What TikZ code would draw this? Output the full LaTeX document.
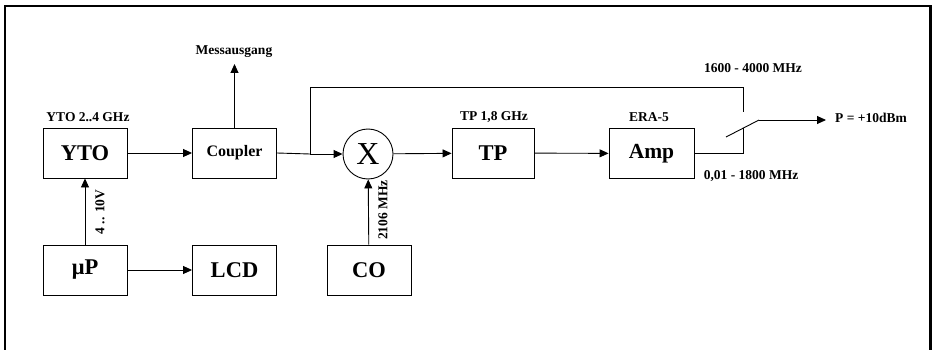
\documentclass[tikz,border=0pt]{standalone}
\usepackage{fontspec}
\setmainfont{Liberation Serif}
\usetikzlibrary{arrows.meta}
\begin{document}
\begin{tikzpicture}[x=1pt,y=-1pt,
  blk/.style={draw, line width=0.9pt, minimum width=84pt, minimum height=50pt, inner sep=0pt, font=\bfseries\fontsize{22.5}{24}\selectfont},
  lbl/.style={font=\bfseries\fontsize{13.5}{15}\selectfont, inner sep=0pt},
  conn/.style={line width=0.9pt},
  arr/.style={conn, -{Triangle[length=9pt,width=8pt]}}]
\clip (0,0) rectangle (932,350);
\fill[white] (0,0) rectangle (932,350);
\draw[line width=2.6pt] (5,360) -- (5,6.2) -- (930.5,6.2) -- (930.5,360);
% blocks
\node[blk] (yto) at (85,153) {YTO};
\node[blk, font=\bfseries\fontsize{16}{18}\selectfont] (cpl) at (234.5,153) {Coupler};
\node[blk] (up) at (85,270) {μP};
\node[blk] (lcd) at (234.5,270) {LCD};
\node[blk] (co) at (369,270) {CO};
\node[circle, draw, line width=0.9pt, minimum size=50pt, inner sep=0pt, font=\fontsize{32}{32}\selectfont] (mix) at (368,154) {X};
\node[blk, minimum width=82pt] (tp) at (493,153) {TP};
\node[blk, minimum width=85pt, font=\bfseries\fontsize{21.5}{24}\selectfont] (amp) at (651.5,153.5) {Amp};
% labels
\node[lbl] (lyto) at (88,117) {YTO 2..4 GHz};
\node[lbl] (lmess) at (234,52) {Messausgang};
\node[lbl] (ltp) at (494,117) {TP 1,8 GHz};
\node[lbl] (lera) at (649,117) {ERA-5};
\node[lbl] (lhi) at (753,68) {1600 - 4000 MHz};
\node[lbl] (llo) at (751,176) {0,01 - 1800 MHz};
\node[lbl, anchor=west] (lp) at (835,118) {P = +10dBm};
\node[lbl, rotate=90] (lv) at (100,212) {4 .. 10V};
\node[lbl, rotate=90] (lmhz) at (383,210) {2106 MHz};
% coordinates
\coordinate (messtip) at (234.5,64);
\coordinate (br) at (310,154);
\coordinate (tr) at (743,87);
\coordinate (uc) at (743,112);
\coordinate (lc) at (743,128);
\coordinate (bl1) at (726,137);
\coordinate (bl2) at (759,120);
\coordinate (out) at (826,120);
% connectors
\draw[arr] (yto) -- (cpl);
\draw[arr] (cpl.north) -- (messtip);
\draw[conn] (cpl.east) -- (br);
\draw[arr] (br) -- (mix);
\draw[conn] (br) |- (tr) -- (uc);
\draw[arr] (mix) -- (tp);
\draw[arr] (tp) -- (amp);
\draw[conn] (amp.east) -| (lc);
\draw[conn] (bl1) -- (bl2);
\draw[arr] (bl2) -- (out);
\draw[arr] (up) -- (yto);
\draw[arr] (up) -- (lcd);
\draw[arr] (co) -- (mix);
\end{tikzpicture}
\end{document}
